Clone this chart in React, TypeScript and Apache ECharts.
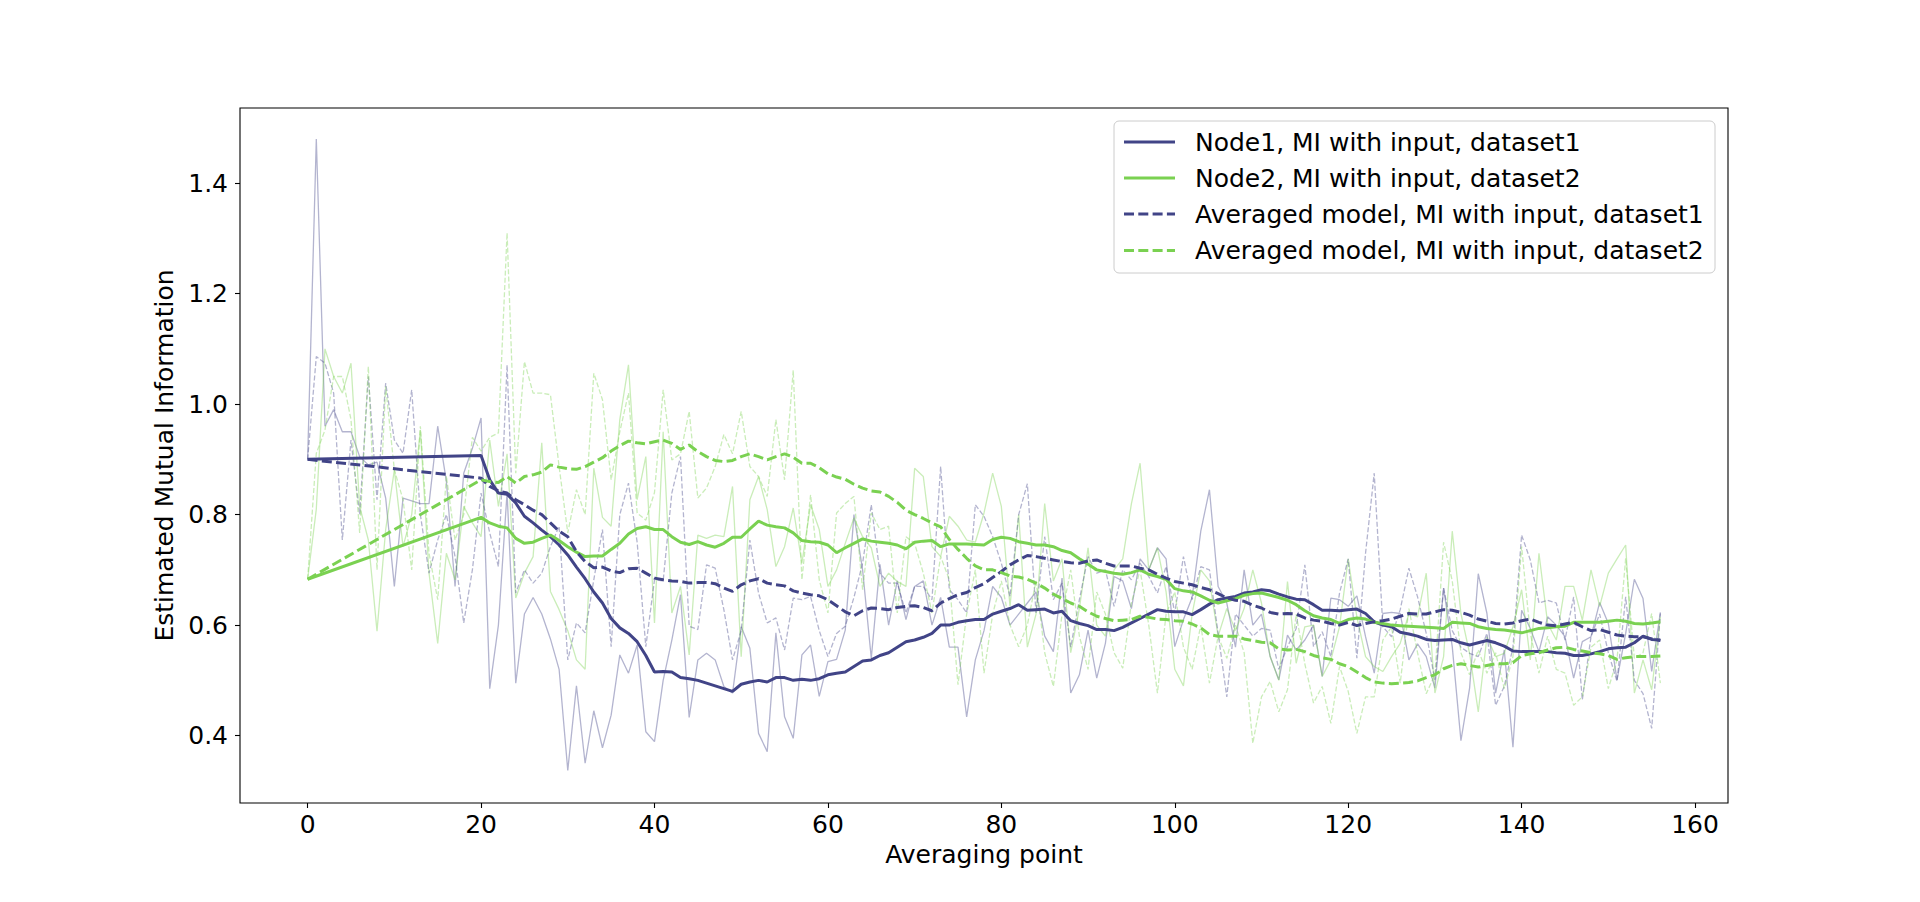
import React, { useEffect, useRef } from "react";
import * as echarts from "echarts";

// ---------- data ----------
// raw per-point values, x = 0..156
const RAW_NODE1 = [
  0.90, 1.48, 0.96, 0.99, 0.95, 0.95, 0.905, 0.89, 0.895, 0.83, 0.67, 0.83, 0.825, 0.82, 0.82, 0.96, 0.86, 0.67, 0.875, 0.92, 0.975,
  0.485, 0.60, 0.84, 0.495, 0.62, 0.65, 0.62, 0.575, 0.52, 0.337, 0.49, 0.35, 0.445, 0.378, 0.437, 0.546, 0.513, 0.564, 0.407, 0.389,
  0.50, 0.573, 0.655, 0.433, 0.537, 0.549, 0.537, 0.489, 0.477,
  0.597, 0.558, 0.404, 0.371, 0.586, 0.434, 0.395, 0.546, 0.564, 0.471, 0.534, 0.538, 0.591,
  0.80, 0.70, 0.54, 0.71, 0.60, 0.68, 0.61, 0.67, 0.68, 0.60, 0.65, 0.56, 0.56, 0.434, 0.537, 0.59, 0.67, 0.65, 0.60,
  0.62, 0.64, 0.66, 0.58, 0.552, 0.685, 0.477, 0.51, 0.591, 0.504, 0.567, 0.688, 0.68, 0.63, 0.72, 0.70, 0.74, 0.72, 0.561, 0.61,
  0.65, 0.77, 0.845, 0.67, 0.64,
  0.56, 0.70, 0.60, 0.62, 0.543, 0.501, 0.582, 0.555, 0.573, 0.60, 0.507, 0.649, 0.646, 0.634, 0.653, 0.579, 0.513, 0.621, 0.623,
  0.621, 0.537, 0.566, 0.543, 0.486, 0.667, 0.561, 0.391, 0.486, 0.693, 0.621, 0.477, 0.555, 0.379, 0.627, 0.594, 0.552, 0.615,
  0.60, 0.579, 0.504, 0.57, 0.579, 0.641, 0.603, 0.501, 0.585, 0.683, 0.648, 0.516, 0.623,
];
const RAW_NODE2 = [
  0.683, 0.81, 1.10, 1.05, 1.02, 1.074, 0.815, 0.754, 0.589, 0.773, 0.881, 0.742, 0.80, 0.953, 0.694, 0.567, 0.73, 0.682, 0.815,
  0.785, 0.76, 0.935, 0.815, 0.91, 0.649, 0.694, 0.724, 0.93, 0.661, 0.628, 0.59, 0.537, 0.52, 0.884, 0.795, 0.779,
  0.972, 1.071, 0.827, 0.905, 0.604, 0.95, 0.622, 0.67, 0.546, 0.763, 0.757, 0.763, 0.76, 0.851, 0.543, 0.827, 0.869, 0.809,
  0.706, 0.742, 0.812, 0.712, 0.818, 0.773, 0.67, 0.70, 0.748, 0.794, 0.76, 0.74, 0.67, 0.694, 0.679, 0.67, 0.884, 0.869, 0.742,
  0.724, 0.797, 0.779, 0.754, 0.75, 0.803, 0.875, 0.815, 0.634,
  0.80, 0.56, 0.62, 0.82, 0.68, 0.72, 0.55, 0.63, 0.74, 0.60, 0.58, 0.70, 0.72, 0.82, 0.893, 0.70, 0.74, 0.66, 0.52, 0.49, 0.62,
  0.70, 0.68, 0.58, 0.63,
  0.59, 0.63, 0.70, 0.64, 0.543, 0.50, 0.679, 0.531, 0.597, 0.60, 0.507, 0.537, 0.597, 0.72, 0.615, 0.543, 0.525, 0.516, 0.543,
  0.567, 0.621, 0.615, 0.694, 0.477, 0.543, 0.77, 0.621, 0.549, 0.443, 0.579, 0.543, 0.549, 0.597, 0.664, 0.537, 0.73, 0.603,
  0.573, 0.67, 0.67, 0.609, 0.70, 0.634, 0.694, 0.72, 0.745, 0.477, 0.537, 0.483, 0.615,
];
const RAW_AVG1 = [
  0.90, 1.086, 1.074, 1.02, 0.754, 0.935, 0.80, 1.05, 0.827, 1.038, 0.935, 0.911, 1.026, 0.80, 0.694, 0.754, 0.80, 0.724, 0.604,
  0.70, 0.839, 0.767, 0.706, 1.071, 0.658, 0.70, 0.676, 0.694, 0.742, 0.779, 0.537, 0.604, 0.586, 0.682, 0.773, 0.561,
  0.80, 0.857, 0.75, 0.561, 0.682, 0.68, 0.839, 0.905, 0.598, 0.592, 0.709, 0.703, 0.628, 0.537, 0.59, 0.754, 0.658, 0.604, 0.613,
  0.555, 0.649, 0.646, 0.652, 0.59, 0.543, 0.585, 0.598, 0.65, 0.712, 0.818, 0.694, 0.676, 0.676, 0.622, 0.67, 0.67, 0.646, 0.887,
  0.664, 0.646, 0.622, 0.818, 0.797, 0.76, 0.712, 0.652, 0.80,
  0.856, 0.622, 0.76, 0.646, 0.676, 0.56, 0.646, 0.724, 0.694, 0.70, 0.634, 0.70, 0.682, 0.712, 0.688, 0.658, 0.706, 0.622, 0.724,
  0.646, 0.706, 0.70, 0.585, 0.47,
  0.62, 0.60, 0.58, 0.594, 0.591, 0.52, 0.561, 0.594, 0.709, 0.561, 0.588, 0.543, 0.658, 0.72, 0.54, 0.73, 0.875, 0.597, 0.579,
  0.628, 0.703, 0.651, 0.585, 0.501, 0.667, 0.59, 0.56, 0.549, 0.543, 0.585, 0.455, 0.489, 0.56, 0.763, 0.718, 0.64, 0.645, 0.64,
  0.573, 0.651, 0.465, 0.579, 0.62, 0.55, 0.498, 0.651, 0.50, 0.476, 0.413, 0.621,
];
const RAW_AVG2 = [
  0.683, 0.911, 0.953, 1.05, 1.05, 0.972, 0.767, 1.068, 0.70, 1.032, 0.881, 0.827, 0.70, 0.96, 0.73, 0.646, 0.87, 0.754, 0.80,
  0.94, 0.915, 0.94, 0.948, 1.31, 0.875, 1.077, 1.02, 1.02, 1.017, 0.887, 0.767, 0.845, 0.80, 1.056, 1.008, 0.863,
  0.95, 1.02, 0.803, 0.79, 0.84, 1.026, 0.899, 0.91, 0.987, 0.83, 0.848, 0.887, 0.945, 0.91, 0.987, 0.887, 0.869, 0.833, 0.972,
  0.863, 1.061, 0.682, 0.836, 0.682, 0.622, 0.803, 0.82, 0.833, 0.664, 0.803, 0.773, 0.779, 0.622, 0.76, 0.748, 0.694, 0.622,
  0.724, 0.682, 0.492, 0.62, 0.70, 0.513, 0.62, 0.68, 0.60, 0.561,
  0.60, 0.68, 0.55, 0.489, 0.62, 0.70, 0.58, 0.52, 0.66, 0.62, 0.55, 0.522, 0.64, 0.70, 0.60, 0.477, 0.62, 0.66, 0.56, 0.52, 0.60,
  0.495, 0.58, 0.54,
  0.60, 0.55, 0.386, 0.47, 0.498, 0.443, 0.483, 0.62, 0.53, 0.459, 0.489, 0.422, 0.525, 0.48, 0.404, 0.47, 0.47, 0.573, 0.597,
  0.495, 0.63, 0.55, 0.476, 0.51, 0.75, 0.68, 0.55, 0.51, 0.555, 0.513, 0.55, 0.485, 0.543, 0.742, 0.585, 0.513, 0.58, 0.52,
  0.513, 0.455, 0.47, 0.56, 0.573, 0.485, 0.537, 0.721, 0.54, 0.55, 0.621, 0.495,
];

// smoothed curves: first value at x = 0, then x = 20..156
const SMOOTH_NODE1 = [
  0.90,
  0.907, 0.863, 0.839, 0.837, 0.821, 0.797, 0.785, 0.772, 0.76, 0.745,
  0.727, 0.705, 0.684, 0.66, 0.64, 0.612, 0.595, 0.585, 0.57, 0.545,
  0.515, 0.516, 0.515, 0.505, 0.503, 0.50, 0.495, 0.49, 0.485, 0.48,
  0.493, 0.497, 0.50, 0.497, 0.505, 0.505, 0.50, 0.502, 0.50, 0.503,
  0.51, 0.513, 0.515, 0.525, 0.535, 0.537, 0.545, 0.55, 0.56, 0.57,
  0.573, 0.578, 0.585, 0.60, 0.60, 0.605, 0.608, 0.61, 0.61, 0.62,
  0.625, 0.63, 0.637, 0.627, 0.628, 0.629, 0.622, 0.625, 0.608, 0.603,
  0.599, 0.592, 0.592, 0.59, 0.596, 0.604, 0.612, 0.62, 0.628, 0.625,
  0.624, 0.624, 0.619, 0.628, 0.638, 0.646, 0.649, 0.652, 0.658, 0.66,
  0.664, 0.662, 0.656, 0.651, 0.647, 0.646, 0.637, 0.627, 0.627, 0.626,
  0.628, 0.629, 0.621, 0.606, 0.60, 0.597, 0.587, 0.584, 0.58, 0.574,
  0.572, 0.573, 0.574, 0.568, 0.564, 0.568, 0.572, 0.568, 0.562, 0.553,
  0.552, 0.552, 0.552, 0.552, 0.55, 0.549, 0.545, 0.545, 0.548, 0.552,
  0.557, 0.559, 0.56, 0.568, 0.58, 0.574, 0.573,
];
const SMOOTH_NODE2 = [
  0.683,
  0.795, 0.785, 0.779, 0.776, 0.757, 0.748, 0.75, 0.757, 0.763, 0.753,
  0.742, 0.732, 0.724, 0.725, 0.725, 0.737, 0.748, 0.765, 0.775, 0.778,
  0.773, 0.773, 0.76, 0.75, 0.746, 0.751, 0.745, 0.741, 0.748, 0.759,
  0.759, 0.774, 0.788, 0.781, 0.778, 0.776, 0.767, 0.753, 0.751, 0.75,
  0.745, 0.731, 0.74, 0.748, 0.756, 0.752, 0.75, 0.748, 0.745, 0.738,
  0.75, 0.752, 0.753, 0.742, 0.747, 0.747, 0.747, 0.746, 0.745, 0.755,
  0.759, 0.757, 0.751, 0.748, 0.745, 0.745, 0.742, 0.735, 0.731, 0.72,
  0.71, 0.70, 0.697, 0.694, 0.692, 0.695, 0.70, 0.692, 0.688, 0.683,
  0.666, 0.662, 0.66, 0.653, 0.645, 0.64, 0.644, 0.648, 0.654, 0.657,
  0.658, 0.654, 0.65, 0.645, 0.637, 0.626, 0.617, 0.613, 0.61, 0.603,
  0.61, 0.613, 0.611, 0.605, 0.603, 0.60, 0.599, 0.598, 0.597, 0.596,
  0.595, 0.594, 0.605, 0.604, 0.603, 0.597, 0.594, 0.592, 0.591, 0.589,
  0.586, 0.59, 0.594, 0.595, 0.597, 0.598, 0.605, 0.605, 0.605, 0.605,
  0.607, 0.609, 0.607, 0.603, 0.602, 0.604, 0.606,
];
const SMOOTH_AVG1 = [
  0.90,
  0.866, 0.851, 0.843, 0.839, 0.827, 0.818, 0.808, 0.80, 0.785, 0.77,
  0.76, 0.733, 0.715, 0.704, 0.705, 0.698, 0.695, 0.702, 0.703, 0.694,
  0.685, 0.682, 0.68, 0.679, 0.676, 0.677, 0.677, 0.675, 0.667, 0.661,
  0.673, 0.68, 0.684, 0.676, 0.673, 0.671, 0.662, 0.658, 0.655, 0.653,
  0.646, 0.635, 0.624, 0.617, 0.626, 0.631, 0.63, 0.628, 0.632, 0.634,
  0.635, 0.632, 0.626, 0.64, 0.648, 0.655, 0.659, 0.668, 0.675, 0.686,
  0.697, 0.709, 0.718, 0.726, 0.724, 0.721, 0.718, 0.715, 0.713, 0.712,
  0.716, 0.718, 0.712, 0.707, 0.707, 0.707, 0.703, 0.70, 0.692, 0.685,
  0.679, 0.676, 0.673, 0.668, 0.664, 0.657, 0.649, 0.645, 0.643, 0.636,
  0.631, 0.623, 0.62, 0.621, 0.62, 0.613, 0.609, 0.607, 0.603, 0.60,
  0.605, 0.599, 0.603, 0.606, 0.608, 0.611, 0.616, 0.621, 0.62, 0.62,
  0.624, 0.628, 0.627, 0.623, 0.618, 0.611, 0.607, 0.603, 0.602, 0.604,
  0.608, 0.611, 0.605, 0.60, 0.599, 0.602, 0.605, 0.597, 0.59, 0.592,
  0.587, 0.582, 0.58, 0.579, 0.579, 0.575, 0.572,
];
const SMOOTH_AVG2 = [
  0.683,
  0.863, 0.86, 0.858, 0.869, 0.857, 0.869, 0.872, 0.877, 0.89, 0.886,
  0.883, 0.882, 0.887, 0.895, 0.903, 0.915, 0.925, 0.933, 0.93, 0.928,
  0.932, 0.935, 0.929, 0.918, 0.926, 0.914, 0.905, 0.898, 0.896, 0.898,
  0.905, 0.91, 0.905, 0.899, 0.905, 0.91, 0.904, 0.893, 0.893, 0.885,
  0.874, 0.868, 0.864, 0.855, 0.848, 0.843, 0.841, 0.833, 0.822, 0.808,
  0.80, 0.793, 0.785, 0.778, 0.755, 0.737, 0.721, 0.707, 0.70, 0.70,
  0.695, 0.689, 0.687, 0.683, 0.676, 0.667, 0.656, 0.648, 0.64, 0.634,
  0.624, 0.616, 0.612, 0.608, 0.609, 0.61, 0.616, 0.614, 0.611, 0.61,
  0.608, 0.607, 0.602, 0.595, 0.583, 0.58, 0.58, 0.58, 0.575, 0.572,
  0.569, 0.568, 0.557, 0.555, 0.556, 0.552, 0.545, 0.541, 0.538, 0.53,
  0.525, 0.515, 0.505, 0.497, 0.495, 0.494, 0.495, 0.496, 0.499, 0.505,
  0.51, 0.521, 0.527, 0.53, 0.527, 0.524, 0.527, 0.53, 0.53, 0.532,
  0.545, 0.548, 0.55, 0.555, 0.559, 0.56, 0.556, 0.553, 0.55, 0.548,
  0.545, 0.538, 0.541, 0.543, 0.543, 0.543, 0.544,
];

const SERIES_NAMES = [
  "Node1, MI with input, dataset1",
  "Node2, MI with input, dataset2",
  "Averaged model, MI with input, dataset1",
  "Averaged model, MI with input, dataset2",
];
const X_TICKS = [0, 20, 40, 60, 80, 100, 120, 140, 160];
const Y_TICKS = [0.4, 0.6, 0.8, 1.0, 1.2, 1.4];
const X_LABEL = "Averaging point";
const Y_LABEL = "Estimated Mutual Information";

// ---------- styling ----------
const NAVY = "#414487";
const GREEN = "#7ad151";
const FONT = "DejaVu Sans";

const RAW_X = RAW_NODE1.map((_, i) => i);
const SMOOTH_X = [0].concat(SMOOTH_NODE1.slice(1).map((_, i) => 20 + i));
const pairs = (xs: number[], ys: number[]) => ys.map((y, i) => [xs[i], y]);

const SMOOTH_DASH = [10, 4.3];
const RAW_DASH = [5, 2.2];

function rawSeries(data: number[], color: string, dashed: boolean) {
  return {
    type: "line",
    data: pairs(RAW_X, data),
    symbol: "none",
    silent: true,
    lineStyle: { color, width: 1.3, opacity: 0.4, type: dashed ? RAW_DASH : "solid" },
    z: 2,
  };
}
function smoothSeries(name: string, data: number[], color: string, dashed: boolean) {
  return {
    type: "line",
    name,
    data: pairs(SMOOTH_X, data),
    symbol: "none",
    silent: true,
    lineStyle: { color, width: 3, type: dashed ? SMOOTH_DASH : "solid" },
    z: 3,
  };
}

function legendGraphics() {
  const items = [
    { color: NAVY, dash: null },
    { color: GREEN, dash: null },
    { color: NAVY, dash: SMOOTH_DASH },
    { color: GREEN, dash: SMOOTH_DASH },
  ];
  const x0 = 1114;
  const y0 = 121;
  const rowY = [142, 178, 214, 250.5];
  const els: any[] = [
    {
      type: "rect",
      shape: { x: x0, y: y0, width: 601, height: 152, r: 5 },
      style: { fill: "rgba(255,255,255,0.8)", stroke: "#cccccc", lineWidth: 1 },
      z: 10,
    },
  ];
  items.forEach((it, i) => {
    els.push({
      type: "line",
      shape: { x1: 1124, y1: rowY[i], x2: 1175, y2: rowY[i] },
      style: { stroke: it.color, lineWidth: 3, lineDash: it.dash || undefined },
      z: 11,
    });
    els.push({
      type: "text",
      x: 1195,
      y: rowY[i],
      style: {
        text: SERIES_NAMES[i],
        fill: "#000",
        fontSize: 25,
        fontFamily: FONT,
        verticalAlign: "middle",
        align: "left",
      },
      z: 11,
    });
  });
  return els;
}

export default function App() {
  const ref = useRef<HTMLDivElement>(null);
  useEffect(() => {
    if (!ref.current) return;
    const chart = echarts.init(ref.current, null, { renderer: "svg" });
    chart.setOption({
      animation: false,
      backgroundColor: "#ffffff",
      grid: {
        left: 240,
        top: 108,
        right: 192,
        bottom: 99,
        show: true,
        borderColor: "#000",
        borderWidth: 1.1,
        backgroundColor: "transparent",
      },
      xAxis: {
        type: "value",
        min: -7.8,
        max: 163.8,
        axisLine: { show: false, onZero: false },
        splitLine: { show: false },
        axisTick: {
          show: true,
          length: 5,
          lineStyle: { color: "#000", width: 1.1 },
          customValues: X_TICKS,
        },
        axisLabel: {
          customValues: X_TICKS,
          fontSize: 25,
          fontFamily: FONT,
          color: "#000",
          margin: 9,
          formatter: (v: number) => String(Math.round(v)),
        },
        name: X_LABEL,
        nameLocation: "middle",
        nameGap: 38,
        nameTextStyle: { fontSize: 25, fontFamily: FONT, color: "#000" },
      },
      yAxis: {
        type: "value",
        min: 0.278,
        max: 1.536,
        axisLine: { show: false, onZero: false },
        splitLine: { show: false },
        axisTick: {
          show: true,
          length: 5,
          lineStyle: { color: "#000", width: 1.1 },
          customValues: Y_TICKS,
        },
        axisLabel: {
          customValues: Y_TICKS,
          fontSize: 25,
          fontFamily: FONT,
          color: "#000",
          margin: 12,
          formatter: (v: number) => v.toFixed(1),
        },
        name: Y_LABEL,
        nameLocation: "middle",
        nameRotate: 90,
        nameGap: 58,
        nameTextStyle: { fontSize: 25, fontFamily: FONT, color: "#000" },
      },
      series: [
        rawSeries(RAW_NODE1, NAVY, false),
        rawSeries(RAW_NODE2, GREEN, false),
        rawSeries(RAW_AVG1, NAVY, true),
        rawSeries(RAW_AVG2, GREEN, true),
        smoothSeries(SERIES_NAMES[0], SMOOTH_NODE1, NAVY, false),
        smoothSeries(SERIES_NAMES[1], SMOOTH_NODE2, GREEN, false),
        smoothSeries(SERIES_NAMES[2], SMOOTH_AVG1, NAVY, true),
        smoothSeries(SERIES_NAMES[3], SMOOTH_AVG2, GREEN, true),
      ],
      graphic: legendGraphics(),
    });
    return () => chart.dispose();
  }, []);
  return (
    <div
      ref={ref}
      style={{ position: "fixed", left: 0, top: 0, width: "1920px", height: "902px", background: "#fff" }}
    />
  );
}
